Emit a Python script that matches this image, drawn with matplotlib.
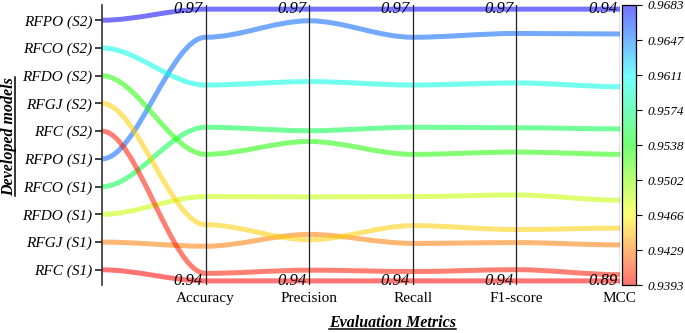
#plot.py 評価指標の平行座標プロット
import numpy as np
import matplotlib
matplotlib.use('Agg')
import matplotlib.pyplot as plt
from matplotlib.path import Path
import matplotlib.patches as patches
from matplotlib.colors import ListedColormap, Normalize
from matplotlib.lines import Line2D

plt.rcParams['font.family'] = ['Liberation Serif', 'DejaVu Serif']

# モデル名（下から上の順）
models = ['RFC (S1)', 'RFGJ (S1)', 'RFDO (S1)', 'RFCO (S1)', 'RFPO (S1)',
          'RFC (S2)', 'RFGJ (S2)', 'RFDO (S2)', 'RFCO (S2)', 'RFPO (S2)']
metrics = ['Accuracy', 'Precision', 'Recall', 'F1-score', 'MCC']

# 各指標の値（modelsと同じ順）
accuracy = [0.9393, 0.9430, 0.9483, 0.9557, 0.9653, 0.9401, 0.9453, 0.9528, 0.9602, 0.9683]
precision = [0.9402, 0.9454, 0.9496, 0.9570, 0.9693, 0.9414, 0.9448, 0.9558, 0.9625, 0.9706]
recall = [0.9393, 0.9433, 0.9483, 0.9557, 0.9653, 0.9403, 0.9452, 0.9528, 0.9602, 0.9683]
f1 = [0.9390, 0.9431, 0.9482, 0.9554, 0.9655, 0.9402, 0.9445, 0.9528, 0.9602, 0.9681]
mcc = [0.8926, 0.8984, 0.9056, 0.9171, 0.9324, 0.8936, 0.9011, 0.9130, 0.9239, 0.9364]

# カラーバーの目盛りラベル
cbar_labels = ['0.9393', '0.9429', '0.9466', '0.9502', '0.9538',
               '0.9574', '0.9611', '0.9647', '0.9683']

# カラーマップ（赤→青）
base = plt.cm.hsv(np.linspace(0, 0.68, 256))
cmap = ListedColormap(base)
alpha = 0.55
pale = base.copy()
pale[:, :3] = base[:, :3] * alpha + (1 - alpha)
pale_cmap = ListedColormap(pale)
norm = Normalize(vmin=min(accuracy), vmax=max(accuracy))

fig = plt.figure(figsize=(6.85, 3.33), dpi=100)
ax = fig.add_axes([0.149, 0.144, 0.756, 0.841])
ax.set_xlim(0, 5)
ax.set_ylim(-0.55, 9.55)

# 各軸の値を縦位置に変換
cols = [accuracy, precision, recall, f1, mcc]
lo, hi = -0.4, 9.4
zs = np.zeros((len(models), 6))
zs[:, 0] = np.arange(len(models))
for j, c in enumerate(cols):
    c = np.array(c)
    zs[:, j + 1] = lo + (c - c.min()) / (c.max() - c.min()) * (hi - lo)

# ベジェ曲線で線を描く
xs = np.linspace(0, 5, 6 * 3 - 2)
for i in range(len(models)):
    verts = list(zip(xs, np.repeat(zs[i, :], 3)[1:-1]))
    codes = [Path.MOVETO] + [Path.CURVE4] * (len(verts) - 1)
    patch = patches.PathPatch(Path(verts, codes), facecolor='none', lw=3.6,
                              edgecolor=cmap(norm(accuracy[i])), alpha=alpha,
                              capstyle='butt', zorder=2)
    ax.add_patch(patch)

# 指標の縦軸と最小・最大ラベル
for j, c in enumerate(cols):
    ax.axvline(j + 1, color='#222222', lw=0.9, zorder=3)
    ax.annotate(f'{max(c):.2f}', (j + 1, hi), xytext=(-2, 0), textcoords='offset points',
                ha='right', va='center', fontsize=12, style='italic', zorder=4)
    ax.annotate(f'{min(c):.2f}', (j + 1, lo), xytext=(-2, 0), textcoords='offset points',
                ha='right', va='center', fontsize=12, style='italic', zorder=4)

# 左軸（モデル名）
for s in ['top', 'right', 'bottom']:
    ax.spines[s].set_visible(False)
ax.spines['left'].set_color('#333333')
ax.spines['left'].set_linewidth(1.2)
ax.set_yticks(range(len(models)))
ax.set_yticklabels(models, fontsize=11, style='italic')
ax.tick_params(axis='y', length=5, width=1.3, color='#333333', pad=2)
ax.set_xticks(range(1, 6))
ax.set_xticklabels(metrics, fontsize=11)
ax.tick_params(axis='x', length=0, pad=5)

# カラーバー
cax = fig.add_axes([0.908, 0.144, 0.0205, 0.841])
sm = plt.cm.ScalarMappable(norm=norm, cmap=pale_cmap)
cb = fig.colorbar(sm, cax=cax)
cb.set_ticks(np.linspace(min(accuracy), max(accuracy), 9))
cb.set_ticklabels(cbar_labels)
cb.ax.tick_params(labelsize=9.5, length=4, width=0.8, pad=4)
for t in cb.ax.get_yticklabels():
    t.set_style('italic')
cb.outline.set_linewidth(0.9)

# 軸タイトル（下線付き）
xl = fig.text(0.573, 0.03, 'Evaluation Metrics', ha='center', va='center',
              fontsize=11.5, weight='bold', style='italic')
yl = fig.text(0.013, 0.59, 'Developed models', ha='center', va='center',
              rotation=90, fontsize=11.5, weight='bold', style='italic')

fig.canvas.draw()
r = fig.canvas.get_renderer()
inv = fig.transFigure.inverted()
b = xl.get_window_extent(r)
p0 = inv.transform((b.x0, b.y0 + 2))
p1 = inv.transform((b.x1, b.y0 + 2))
fig.add_artist(Line2D([p0[0], p1[0]], [p0[1], p1[1]], color='k', lw=1.1))
b = yl.get_window_extent(r)
p0 = inv.transform((b.x1 - 2, b.y0))
p1 = inv.transform((b.x1 - 2, b.y1))
fig.add_artist(Line2D([p0[0], p1[0]], [p0[1], p1[1]], color='k', lw=1.1))

plt.savefig('out.png', dpi=100)
